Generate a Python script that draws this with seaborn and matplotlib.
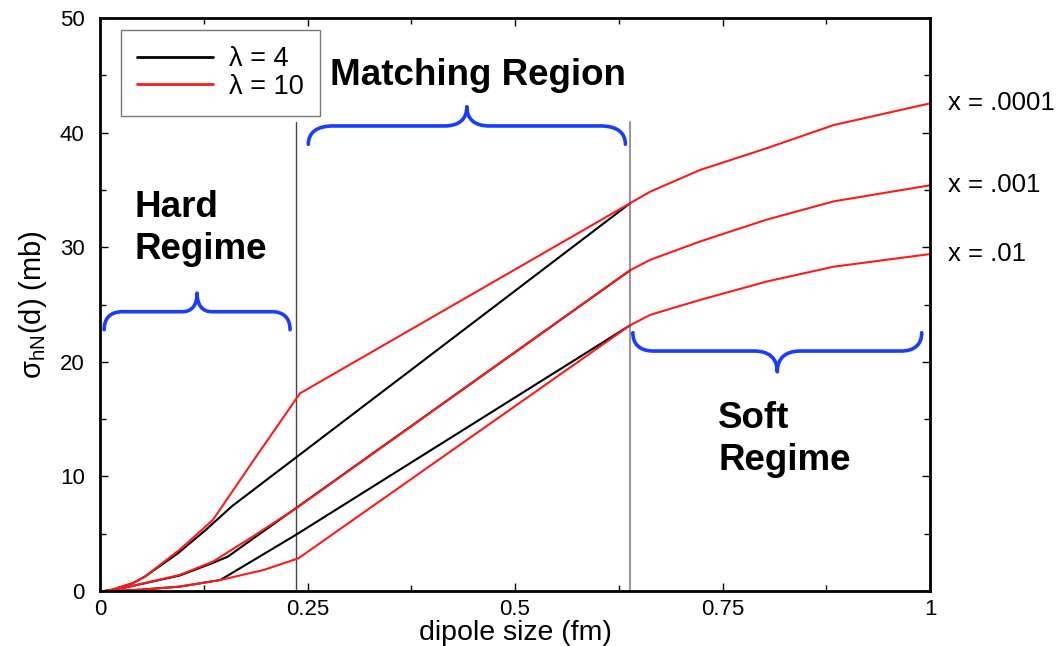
import numpy as np
import pandas as pd
import matplotlib
matplotlib.use("Agg")
import matplotlib.pyplot as plt
from matplotlib.path import Path
from matplotlib.patches import PathPatch
from matplotlib.ticker import MultipleLocator, FuncFormatter
import seaborn as sns

# ---------------- data ----------------
# lambda = 10 curves (red), one per Bjorken x
red_top_x = [0.010, 0.040, 0.054, 0.096, 0.136, 0.185, 0.241, 0.639, 0.663, 0.723, 0.803, 0.884, 1.000]
red_top_y = [0.0, 0.70, 1.25, 3.60, 6.20, 11.40, 17.25, 33.85, 34.85, 36.74, 38.63, 40.66, 42.55]

red_mid_x = [0.005, 0.028, 0.096, 0.136, 0.184, 0.236, 0.639, 0.663, 0.723, 0.803, 0.884, 1.000]
red_mid_y = [0.0, 0.26, 1.40, 2.56, 4.75, 7.20, 28.00, 28.90, 30.50, 32.40, 34.00, 35.40]

red_bot_x = [0.018, 0.050, 0.096, 0.145, 0.197, 0.239, 0.639, 0.663, 0.723, 0.803, 0.884, 1.000]
red_bot_y = [0.0, 0.12, 0.38, 0.96, 1.83, 2.85, 23.20, 24.10, 25.40, 27.00, 28.30, 29.40]

# lambda = 4 curves (black)
blk_top_x = [0.010, 0.040, 0.054, 0.094, 0.127, 0.159, 0.639]
blk_top_y = [0.0, 0.70, 1.25, 3.30, 5.30, 7.40, 33.85]

blk_mid_x = [0.005, 0.028, 0.096, 0.136, 0.154, 0.639]
blk_mid_y = [0.0, 0.26, 1.35, 2.45, 3.00, 28.00]

blk_bot_x = [0.018, 0.050, 0.096, 0.145, 0.236, 0.639]
blk_bot_y = [0.0, 0.12, 0.38, 0.96, 4.90, 23.20]

x_labels = ["x = .0001", "x = .001", "x = .01"]
legend_labels = ["\u03bb = 4", "\u03bb = 10"]
boundaries = [0.236, 0.639]
x_ticklabels = {0: "0", 0.25: "0.25", 0.5: "0.5", 0.75: "0.75", 1: "1"}

# ---------------- style ----------------
sns.set_style("ticks")
plt.rcParams["font.family"] = ["Liberation Sans", "DejaVu Sans"]
plt.rcParams["mathtext.fontset"] = "custom"
plt.rcParams["mathtext.rm"] = "Liberation Sans"
plt.rcParams["mathtext.it"] = "Liberation Sans:italic"
plt.rcParams["mathtext.bf"] = "Liberation Sans:bold"
for key in ["text.color", "axes.labelcolor", "xtick.color", "ytick.color", "axes.edgecolor"]:
    plt.rcParams[key] = "black"

fig = plt.figure(figsize=(10.63, 6.46), dpi=100)
ax = fig.add_axes([100 / 1063, 1 - 591 / 646, 830 / 1063, 573 / 646])

RED = "#ff1a1a"
BLK = "#000000"

def frame(xs, ys, name):
    return pd.DataFrame({"d": xs, "sigma": ys, "series": name})

black_series = [(blk_top_x, blk_top_y), (blk_mid_x, blk_mid_y), (blk_bot_x, blk_bot_y)]
red_series = [(red_top_x, red_top_y), (red_mid_x, red_mid_y), (red_bot_x, red_bot_y)]

for i, (xs, ys) in enumerate(black_series):
    sns.lineplot(data=frame(xs, ys, "b%d" % i), x="d", y="sigma", color=BLK, lw=1.5,
                 sort=False, estimator=None, ax=ax,
                 label=legend_labels[0] if i == 0 else "_nolegend_")
for i, (xs, ys) in enumerate(red_series):
    sns.lineplot(data=frame(xs, ys, "r%d" % i), x="d", y="sigma", color=RED, lw=1.5,
                 sort=False, estimator=None, ax=ax,
                 label=legend_labels[1] if i == 0 else "_nolegend_")

# regime boundaries
ax.plot([boundaries[0]] * 2, [0, 40.9], color="#444444", lw=1.0, zorder=1)
ax.plot([boundaries[1]] * 2, [0, 40.9], color="#999999", lw=1.5, zorder=1)

ax.set_xlim(0, 1)
ax.set_ylim(0, 50)
ax.xaxis.set_major_locator(MultipleLocator(0.25))
ax.xaxis.set_minor_locator(MultipleLocator(0.125))
ax.yaxis.set_major_locator(MultipleLocator(10))
ax.yaxis.set_minor_locator(MultipleLocator(5))
ax.xaxis.set_major_formatter(FuncFormatter(lambda v, p: x_ticklabels.get(round(v, 3), "%g" % v)))
ax.tick_params(which="both", direction="in", top=True, right=True, width=1, colors="black",
               labelsize=16)
ax.tick_params(which="major", length=6)
ax.tick_params(which="minor", length=4)
ax.tick_params(axis="x", pad=6)
ax.tick_params(axis="y", pad=11)
for s in ax.spines.values():
    s.set_linewidth(2.0)
    s.set_color("black")
    s.set_visible(True)

ax.set_xlabel("dipole size (fm)", fontsize=20.5, labelpad=0)
ax.set_ylabel(r"$\mathrm{\sigma_{hN}}$(d) (mb)", fontsize=21, labelpad=8)

leg = ax.legend(loc="upper left", bbox_to_anchor=(21 / 830, 1 - 12 / 573), fontsize=19.5,
                frameon=True, fancybox=False, edgecolor="#777777", framealpha=1,
                handlelength=2.8, handletextpad=0.6, borderpad=0.6, labelspacing=0.05,
                borderaxespad=0)
leg.get_frame().set_linewidth(1.0)
for h in leg.get_lines():
    h.set_linewidth(2.0)

# right-hand x labels at the curve ends
for lab, (xs, ys) in zip(x_labels, red_series):
    ax.text(1.022, ys[-1], lab, fontsize=18.5, ha="left", va="center", clip_on=False)

# regime labels (va='baseline' anchors the last line)
ax.text(0.042, 28.97, "Hard\nRegime", fontsize=26.5, fontweight="bold", ha="left",
        va="baseline", linespacing=1.27)
ax.text(0.277, 44.15, "Matching Region", fontsize=26.5, fontweight="bold", ha="left",
        va="baseline")
ax.text(0.745, 10.56, "Soft\nRegime", fontsize=26.5, fontweight="bold", ha="left",
        va="baseline", linespacing=1.27)

# curly braces
def brace(ax, x0, x1, yf, tip, peak, r, r2, color="#1a3cff", lw=2.6):
    xc = (x0 + x1) / 2
    k = 0.35
    verts = [(x0, yf + tip), (x0, yf + tip * k), (x0 + r * k, yf), (x0 + r, yf),
             (xc - r2, yf),
             (xc - r2 * k, yf), (xc, yf + peak * k), (xc, yf + peak),
             (xc, yf + peak * k), (xc + r2 * k, yf), (xc + r2, yf),
             (x1 - r, yf),
             (x1 - r * k, yf), (x1, yf + tip * k), (x1, yf + tip)]
    codes = ([Path.MOVETO] + [Path.CURVE4] * 3 + [Path.LINETO] + [Path.CURVE4] * 6
             + [Path.LINETO] + [Path.CURVE4] * 3)
    ax.add_patch(PathPatch(Path(verts, codes), fill=False, edgecolor=color, lw=lw,
                           capstyle="round", joinstyle="round", clip_on=False, zorder=5))

brace(ax, 0.005, 0.229, 24.37, -1.57, 1.62, 0.022, 0.018)
brace(ax, 0.251, 0.633, 40.58, -1.60, 1.68, 0.030, 0.027)
brace(ax, 0.642, 0.990, 20.94, 1.60, -1.81, 0.025, 0.028)

fig.savefig("out.png", dpi=100)
